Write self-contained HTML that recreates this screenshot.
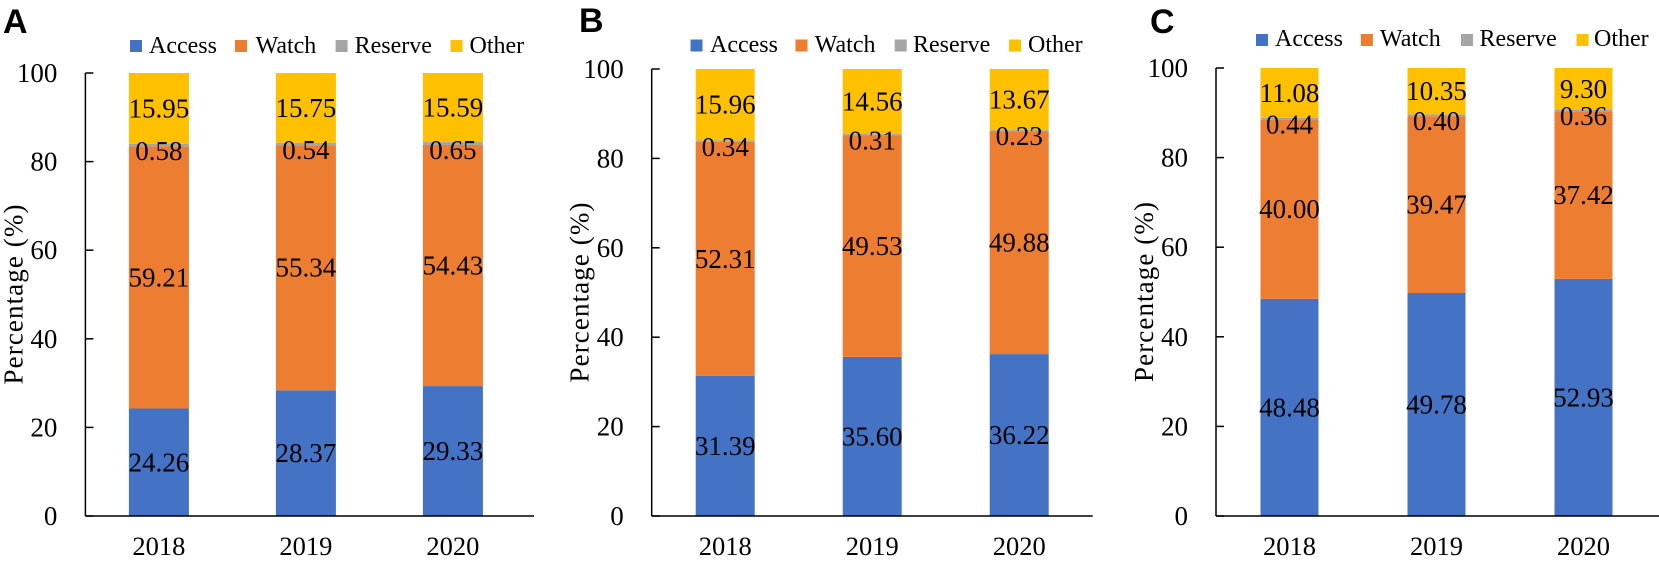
<!DOCTYPE html>
<html><head><meta charset="utf-8"><style>
html,body{margin:0;padding:0;background:#fff;}
svg{display:block;font-family:"Liberation Serif","Times New Roman",serif;}
</style></head><body>
<svg id="chart" width="1659" height="561" viewBox="0 0 1659 561" xmlns="http://www.w3.org/2000/svg"></svg>
<script>
const years = ["2018","2019","2020"];
const seriesNames = ["Access","Watch","Reserve","Other"];
const yTicks = [0,20,40,60,80,100];
const accessA = [24.26,28.37,29.33];
const watchA = [59.21,55.34,54.43];
const reserveA = [0.58,0.54,0.65];
const otherA = [15.95,15.75,15.59];
const accessB = [31.39,35.60,36.22];
const watchB = [52.31,49.53,49.88];
const reserveB = [0.34,0.31,0.23];
const otherB = [15.96,14.56,13.67];
const accessC = [48.48,49.78,52.93];
const watchC = [40.00,39.47,37.42];
const reserveC = [0.44,0.40,0.36];
const otherC = [11.08,10.35,9.30];

const colors = ["#4472C4","#ED7D31","#A5A5A5","#FFC000"];
const NS = "http://www.w3.org/2000/svg";
const svg = document.getElementById('chart');
function mk(tag, attrs, parent){
  const e = document.createElementNS(NS, tag);
  for (const k in attrs) e.setAttribute(k, attrs[k]);
  (parent||svg).appendChild(e);
  return e;
}
const panels = [
  {id:"a", letter:"A", letterX:3, letterY:33, axisX:85.4, axisEnd:534, top:73, bottom:516, barW:60,
   legSq:[130,235,335.6,450.5], legTx:[149,255.6,354.6,469.5], legTop:40, legBase:53,
   data:[accessA,watchA,reserveA,otherA]},
  {id:"b", letter:"B", letterX:579, letterY:32, axisX:651.7, axisEnd:1092.7, top:69, bottom:516, barW:59,
   legSq:[690.5,795.5,894.7,1009], legTx:[710,814.8,913,1028], legTop:39.5, legBase:52,
   data:[accessB,watchB,reserveB,otherB]},
  {id:"c", letter:"C", letterX:1150, letterY:33, axisX:1216, axisEnd:1659, top:68, bottom:516, barW:58,
   legSq:[1256,1360.9,1461,1576.6], legTx:[1275,1380,1479.5,1594], legTop:34, legBase:46,
   data:[accessC,watchC,reserveC,otherC]}
];
panels.forEach(p => {
  const g = mk('g', {});
  
  
  const yS = v => p.bottom - (v/100)*(p.bottom - p.top);
  const catW = (Math.min(p.axisEnd, p.axisX + 441) - p.axisX) / years.length;
  const cx = i => p.axisX + catW*(i+0.5);
  const L = mk('text', {x:p.letterX, y:p.letterY, 'font-family':'"Liberation Sans",Arial,sans-serif','font-weight':'bold','font-size':34, fill:'#000'}, g);
  L.textContent = p.letter;
  
  
  seriesNames.forEach((s, k) => {
    const lg = mk('g', {}, g);
    
    
    mk('rect', {x:p.legSq[k], y:p.legTop, width:12, height:12, fill:colors[k]}, lg);
    const t = mk('text', {x:p.legTx[k], y:p.legBase, 'font-size':24, fill:'#000'}, lg);
    t.textContent = s;
  });
  const labels = [];
  years.forEach((yr, i) => {
    let cum = 0;
    p.data.forEach((arr, k) => {
      const v = arr[i];
      const y1 = yS(cum + v), y0 = yS(cum);
      const r = mk('rect', {x:cx(i)-p.barW/2, y:y1, width:p.barW, height:Math.max(0, y0-y1), fill:colors[k]}, g);
      
      
      const ly = (k === 2) ? y0 + 14 : (y1+y0)/2 + 9;
      labels.push({x:cx(i), y:ly, v:v, n:seriesNames[k].toLowerCase() + '-' + yr});
      cum += v;
    });
    const xl = mk('text', {x:cx(i), y:555, 'font-size':26.5, 'text-anchor':'middle', fill:'#000'}, g);
    xl.textContent = yr;
    
    
  });
  labels.forEach(l => {
    const t = mk('text', {x:l.x, y:l.y, 'font-size':27, 'text-anchor':'middle', fill:'#000'}, g);
    t.textContent = l.v.toFixed(2);
    
    
  });
  const ya = mk('line', {x1:p.axisX, y1:p.top, x2:p.axisX, y2:p.bottom, stroke:'#000', 'stroke-width':1.5}, g);
  
  
  const xa = mk('line', {x1:p.axisX, y1:p.bottom, x2:p.axisEnd, y2:p.bottom, stroke:'#000', 'stroke-width':1.5}, g);
  
  
  yTicks.forEach(v => {
    const y = yS(v);
    mk('line', {x1:p.axisX, y1:y, x2:p.axisX+8, y2:y, stroke:'#000', 'stroke-width':1.5}, g);
    const t = mk('text', {x:p.axisX-28, y:y+9, 'font-size':27, 'text-anchor':'end', fill:'#000'}, g);
    t.textContent = v;
    
    
  });
  const cy = (p.top + p.bottom)/2;
  const tx = p.axisX - 63;
  const yt = mk('text', {x:tx, y:cy, 'font-size':27, 'text-anchor':'middle', fill:'#000', transform:`rotate(-90 ${tx} ${cy})`, textLength:180, lengthAdjust:'spacing'}, g);
  yt.textContent = 'Percentage (%)';
  
  
});
</script>
</body></html>
